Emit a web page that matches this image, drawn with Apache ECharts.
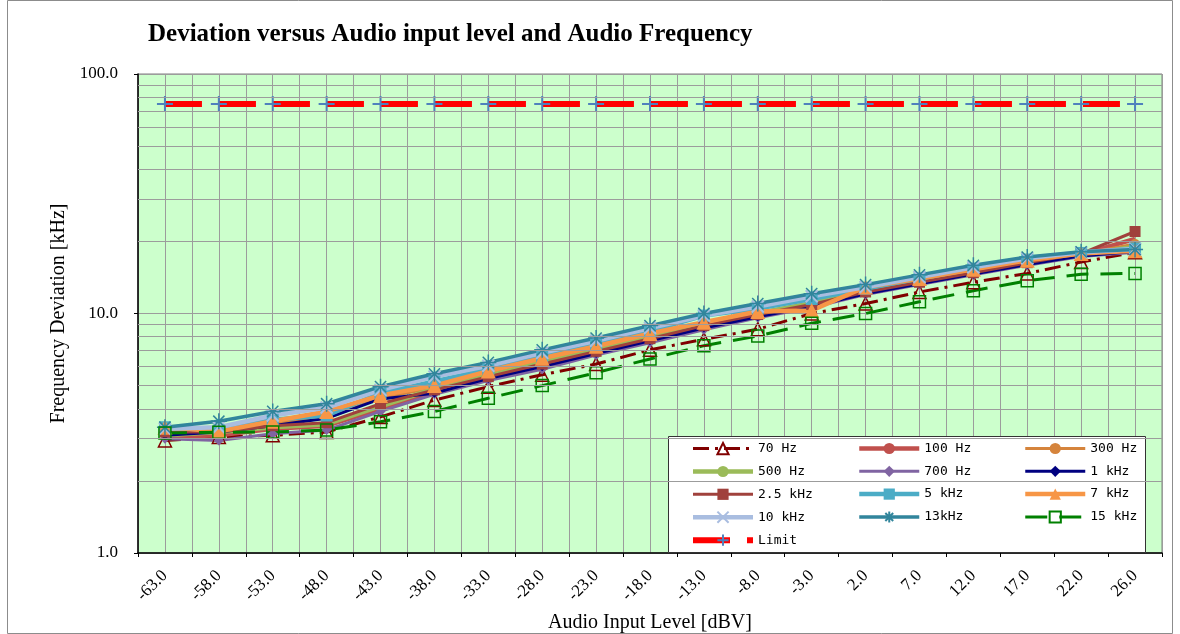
<!DOCTYPE html>
<html>
<head>
<meta charset="utf-8">
<script src="https://cdn.jsdelivr.net/npm/echarts@6/dist/echarts.min.js"></script>
<style>
html,body{margin:0;padding:0;background:#fff;}
#chart{width:1180px;height:634px;}
</style>
</head>
<body>
<div id="chart"></div>
<script>
const categories = ['-63.0','-58.0','-53.0','-48.0','-43.0','-38.0','-33.0','-28.0','-23.0','-18.0','-13.0','-8.0','-3.0','2.0','7.0','12.0','17.0','22.0','26.0'];
const halfSteps = ['a0','b0','a1','b1','a2','b2','a3','b3','a4','b4','a5','b5','a6','b6','a7','b7','a8','b8','a9','b9','a10','b10','a11','b11','a12','b12','a13','b13','a14','b14','a15','b15','a16','b16','a17','b17','a18','b18'];
const yTickValues = [1, 10, 100];
const minorGrid = [2,3,4,5,6,7,8,9,20,30,40,50,60,70,80,90];

const hz70  = [2.95,3.05,3.1,3.2,3.7,4.35,4.95,5.55,6.15,7.05,7.8,8.6,10.0,11.0,12.3,13.5,14.7,16.4,18.0];
const hz100 = [3.05,3.1,3.3,3.4,4.0,4.75,5.4,6.1,6.9,7.8,8.8,9.8,10.8,12.2,13.4,14.7,16.2,17.6,20.5];
const hz300 = [3.15,3.2,3.5,3.65,4.45,4.9,5.65,6.3,7.1,8.05,9.1,10.1,11.1,12.5,13.7,15.0,16.5,17.7,19.5];
const hz500 = [3.1,3.2,3.35,3.45,4.1,4.85,5.5,6.25,7.0,7.95,9.0,10.0,11.0,12.4,13.6,14.9,16.4,17.6,19.0];
const hz700 = [3.0,2.95,3.15,3.26,3.9,4.6,5.25,5.85,6.7,7.55,8.55,9.6,10.6,12.0,13.2,14.5,15.9,17.3,18.0];
const k1    = [3.1,3.2,3.4,3.65,4.4,4.65,5.35,6.0,6.8,7.7,8.7,9.7,10.7,12.1,13.3,14.6,16.0,17.4,18.2];
const k2_5  = [3.2,3.2,3.4,3.5,4.2,4.8,5.45,6.15,6.95,7.85,8.9,9.9,10.9,12.3,13.5,14.8,16.3,17.8,22.0];
const k5    = [3.35,3.25,3.6,3.75,4.65,5.2,5.85,6.6,7.45,8.45,9.8,10.5,11.5,12.7,14.0,15.4,16.8,17.9,18.7];
const k7    = [3.35,3.22,3.55,3.9,4.55,5.0,5.75,6.5,7.3,8.25,9.2,10.2,10.3,12.9,14.0,15.3,16.7,17.8,18.3];
const k10   = [3.3,3.35,3.75,4.05,4.8,5.45,6.05,6.85,7.7,8.7,9.8,10.7,11.8,12.9,14.2,15.6,17.0,18.0,18.6];
const k13   = [3.35,3.55,3.9,4.2,4.95,5.6,6.25,7.05,7.9,8.9,10.0,11.0,12.1,13.2,14.5,15.9,17.2,18.1,18.5];
const k15   = [3.17,3.19,3.2,3.26,3.53,3.9,4.43,5.0,5.66,6.46,7.34,8.05,9.1,10.0,11.2,12.45,13.7,14.6,14.7];
const limit = [75,75,75,75,75,75,75,75,75,75,75,75,75,75,75,75,75,75,75];

const SERIF = '"Liberation Serif","Times New Roman",serif';
const GRIDC = '#9C9C9C';
const PLUS = 'path://M5,0L5,10M0,5L10,5';
const XMARK = 'path://M0,0L10,10M10,0L0,10';
const STAR = 'path://M5,0L5,10M0,5L10,5M1.5,1.5L8.5,8.5M8.5,1.5L1.5,8.5';

function mk(name, data, color, width, symbol, size, opts) {
  opts = opts || {};
  return {
    name: name, type: 'line', data: data,
    xAxisIndex: 0, yAxisIndex: 0,
    symbol: symbol || 'none', symbolSize: size || 8,
    showSymbol: !!symbol,
    lineStyle: Object.assign({color: color, width: width, type: 'solid'}, opts.lineStyle || {}),
    itemStyle: opts.itemStyle || {color: color, borderColor: color, borderWidth: 0},
    emphasis: {disabled: true},
    z: opts.z || 2
  };
}
const hollow = (c, w) => ({color: 'rgba(0,0,0,0)', borderColor: c, borderWidth: w});

const series = [
  {name: 'grid', type: 'line', data: [], z: 1, silent: true,
   markLine: {silent: true, symbol: ['none','none'], label: {show: false}, animation: false,
     lineStyle: {color: GRIDC, width: 1, type: 'solid'},
     emphasis: {disabled: true},
     data: minorGrid.map(v => ({yAxis: v}))}},
  mk('70 Hz', hz70, '#800000', 3, 'triangle', 13, {lineStyle: {type: [16,6,3,6]}, itemStyle: hollow('#800000', 1.5)}),
  mk('100 Hz', hz100, '#C0504D', 4.5),
  mk('300 Hz', hz300, '#D5843C', 3, 'circle', 10),
  mk('500 Hz', hz500, '#9BBB59', 4.5),
  mk('700 Hz', hz700, '#8064A2', 3, 'diamond', 10),
  mk('1 kHz', k1, '#000080', 3, 'diamond', 9),
  mk('2.5 kHz', k2_5, '#A0413C', 3, 'rect', 11),
  mk('5 kHz', k5, '#4BACC6', 4.5, 'rect', 12),
  mk('7 kHz', k7, '#F79646', 4.5, 'triangle', 15),
  mk('10 kHz', k10, '#A9BDE0', 4.5, XMARK, 12, {itemStyle: hollow('#A9BDE0', 2)}),
  mk('13kHz', k13, '#31859C', 3.5, STAR, 16, {itemStyle: hollow('#31859C', 1.5)}),
  mk('15 kHz', k15, '#008000', 3, 'rect', 12, {lineStyle: {type: [22,12]}, itemStyle: hollow('#008000', 1.5)}),
  mk('Limit', limit, '#FF0000', 6, PLUS, 16, {lineStyle: {type: [37,17]}, itemStyle: hollow('#4F81BD', 2)})
];

const legendBase = {
  orient: 'vertical', padding: 0, itemWidth: 60, itemHeight: 14, itemGap: 9.8,
  lineStyle: {width: 'inherit', type: 'inherit'},
  textStyle: {fontFamily: '"DejaVu Sans Mono",monospace', fontSize: 13, color: '#000', padding: [0,0,0,0]},
  selectedMode: false, z: 5
};

const option = {
  animation: false,
  backgroundColor: '#fff',
  title: {
    text: 'Deviation versus Audio input level and Audio Frequency',
    left: 148, top: 22, padding: 0,
    textStyle: {fontFamily: SERIF, fontWeight: 'bold', fontSize: 25, color: '#000'}
  },
  graphic: [
    {type: 'rect', z: 0, shape: {x: 7.5, y: 0.5, width: 1165, height: 633}, style: {fill: 'none', stroke: '#8C8C8C', lineWidth: 1}},
    {type: 'rect', z: 4, shape: {x: 668.5, y: 436.5, width: 477, height: 116}, style: {fill: '#fff', stroke: '#333', lineWidth: 1}}
  ],
  legend: [
    Object.assign({}, legendBase, {left: 690, top: 442, data: ['70 Hz','500 Hz','2.5 kHz','10 kHz','Limit']}),
    Object.assign({}, legendBase, {left: 857, top: 442, data: ['100 Hz','700 Hz','5 kHz','13kHz']}),
    Object.assign({}, legendBase, {left: 1023, top: 442, data: ['300 Hz','1 kHz','7 kHz','15 kHz']})
  ],
  grid: {left: 138, right: 18, top: 74, bottom: 81, containLabel: false, outerBoundsMode: 'none',
         show: true, backgroundColor: '#CCFFCC', borderColor: '#7F7F7F', borderWidth: 1},
  xAxis: [
    {type: 'category', data: categories, boundaryGap: true, position: 'bottom',
     name: 'Audio Input Level [dBV]', nameLocation: 'middle', nameGap: 60,
     nameTextStyle: {fontFamily: SERIF, fontSize: 20, color: '#000'},
     axisLine: {show: true, lineStyle: {color: '#000', width: 1.5}},
     axisTick: {show: true, interval: 0, length: 4, lineStyle: {color: '#000'}},
     axisLabel: {interval: 0, rotate: 45, margin: 20, fontFamily: SERIF, fontSize: 17, color: '#000'},
     splitLine: {show: false}},
    {type: 'category', data: halfSteps, boundaryGap: true, position: 'top',
     axisLine: {show: false}, axisTick: {show: false}, axisLabel: {show: false},
     splitLine: {show: true, interval: 0, lineStyle: {color: [GRIDC], width: 1}}}
  ],
  yAxis: {
    type: 'log', logBase: 10, min: yTickValues[0], max: yTickValues[2], interval: 1,
    name: 'Frequency Deviation [kHz]', nameLocation: 'middle', nameGap: 62, nameRotate: 90,
    nameTextStyle: {fontFamily: SERIF, fontSize: 20, color: '#000'},
    axisLine: {show: true, lineStyle: {color: '#000', width: 1.5}},
    axisTick: {show: true, length: 4, lineStyle: {color: '#000'}},
    axisLabel: {margin: 20, fontFamily: SERIF, fontSize: 17, color: '#000', formatter: v => Number(v).toFixed(1)},
    splitLine: {show: true, lineStyle: {color: [GRIDC], width: 1}},
    minorTick: {show: false}, minorSplitLine: {show: false}
  },
  series: series
};

const chart = echarts.init(document.getElementById('chart'), null, {renderer: 'canvas'});
chart.setOption(option);
</script>
</body>
</html>
